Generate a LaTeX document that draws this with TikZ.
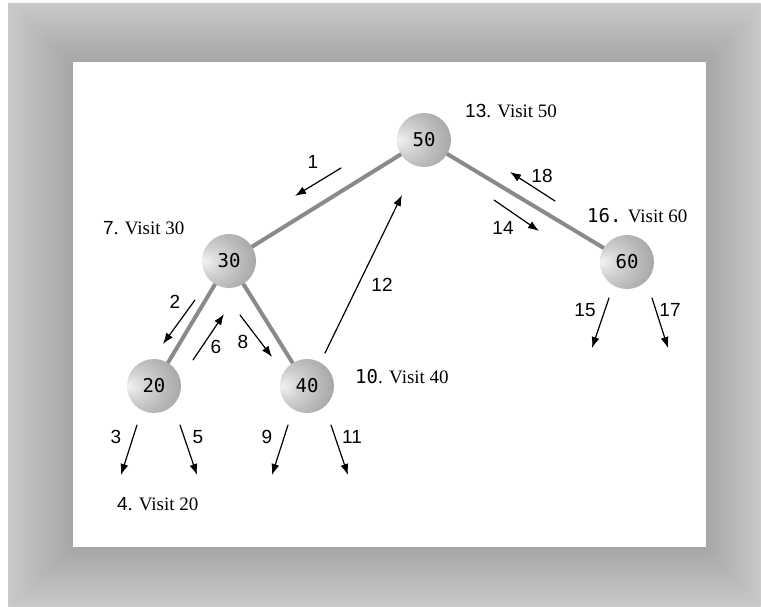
\documentclass[tikz,border=0pt]{standalone}
\usepackage{fontspec}
\setmainfont{Liberation Serif}
\setsansfont{Liberation Sans}
\setmonofont{DejaVu Sans Mono}
\usetikzlibrary{arrows.meta,calc}

\pgfdeclareradialshading{sphere}{\pgfpoint{-24bp}{0bp}}{color(0bp)=(gray!10); color(12bp)=(gray!35); color(34bp)=(gray!70); color(50bp)=(gray!92)}

\tikzset{
  ball/.style={circle, minimum size=54pt, inner sep=0pt, shading=sphere,
    font=\ttfamily\fontsize{19}{19}\selectfont},
  branch/.style={line width=4pt, gray!92},
  trav/.style={->, line width=1.2pt},
  num/.style={font=\sffamily\fontsize{19}{19}\selectfont, inner sep=0pt},
  visit/.style={anchor=west, inner sep=0pt, font=\fontsize{19}{19}\selectfont}
}

\begin{document}
\begin{tikzpicture}[x=1pt, y=-1pt, >={Latex[length=11pt,width=8pt]}, line cap=round, line join=round]
            \useasboundingbox (0,0) rectangle (761,607);

            % bevelled frame
            \coordinate (O1) at (8,3);
            \coordinate (O2) at (761,3);
            \coordinate (O3) at (761,607);
            \coordinate (O4) at (8,607);
            \coordinate (I1) at (73,62);
            \coordinate (I2) at (706,62);
            \coordinate (I3) at (706,547);
            \coordinate (I4) at (73,547);
            \shade[top color=gray!42, bottom color=gray!70] (O1) -- (O2) -- (I2) -- (I1) -- cycle;
            \shade[top color=gray!70, bottom color=gray!42] (I4) -- (I3) -- (O3) -- (O4) -- cycle;
            \shade[left color=gray!42, right color=gray!70] (O1) -- (I1) -- (I4) -- (O4) -- cycle;
            \shade[left color=gray!70, right color=gray!42] (I2) -- (O2) -- (O3) -- (I3) -- cycle;
            \fill[white] (I1) rectangle (I3);

            % tree
            \coordinate (p50) at (424,140);
            \coordinate (p30) at (229,261);
            \coordinate (p20) at (154,386);
            \coordinate (p40) at (307,386);
            \coordinate (p60) at (627,262);

            \draw[branch] (p50) -- (p30);
            \draw[branch] (p50) -- (p60);
            \draw[branch] (p30) -- (p20);
            \draw[branch] (p30) -- (p40);

            \node[ball] (n50) at (p50) {50};
            \node[ball] (n30) at (p30) {30};
            \node[ball] (n20) at (p20) {20};
            \node[ball] (n40) at (p40) {40};
            \node[ball] (n60) at (p60) {60};

            % traversal steps
            \draw[trav] ($(n50)+(-83,28)$) -- ($(n50)+(-129,56)$);
            \node[num] at (313,162) {1};
            \draw[trav] ($(n30)+(-34,39)$) -- ($(n30)+(-66,83)$);
            \node[num] at (175,302) {2};
            \draw[trav] ($(n20)+(-17,39)$) -- ($(n20)+(-33,89)$);
            \node[num] at (116,437) {3};
            \draw[trav] ($(n20)+(26,39)$) -- ($(n20)+(43,89)$);
            \node[num] at (198,437) {5};
            \draw[trav] ($(n30)+(-36,99)$) -- ($(n30)+(-5,53)$);
            \node[num] at (216,347) {6};
            \draw[trav] ($(n30)+(11,54)$) -- ($(n30)+(43,96)$);
            \node[num] at (243,342) {8};
            \draw[trav] ($(n40)+(-19,39)$) -- ($(n40)+(-35,89)$);
            \node[num] at (267,437) {9};
            \draw[trav] ($(n40)+(24,39)$) -- ($(n40)+(41,89)$);
            \node[num] at (352,437) {11};
            \draw[trav] ($(n40)+(18,-33)$) -- ($(n50)+(-22,55)$);
            \node[num] at (382,285) {12};
            \draw[trav] ($(n50)+(70,60)$) -- ($(n50)+(115,91)$);
            \node[num] at (503,228) {14};
            \draw[trav] ($(n60)+(-18,36)$) -- ($(n60)+(-35,86)$);
            \node[num] at (585,310) {15};
            \draw[trav] ($(n60)+(25,36)$) -- ($(n60)+(41,86)$);
            \node[num] at (670,310) {17};
            \draw[trav] ($(n50)+(131,61)$) -- ($(n50)+(86,32)$);
            \node[num] at (542,176) {18};

            % visits
            \node[visit] at (465,111) {{\sffamily 13}. Visit 50};
            \node[visit] at (103,228) {{\sffamily 7}. Visit 30};
            \node[visit] at (117,504) {{\sffamily 4}. Visit 20};
            \node[visit] at (355,377) {{\ttfamily 10}. Visit 40};
            \node[visit] at (587,216) {{\ttfamily 16.} Visit 60};

        \end{tikzpicture}
\end{document}
